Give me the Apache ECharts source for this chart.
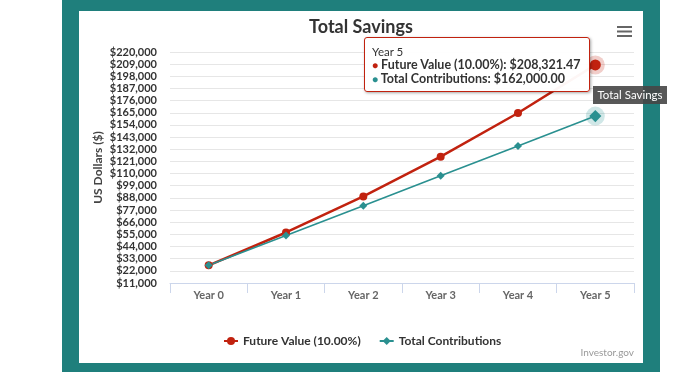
<!DOCTYPE html>
<html>
<head>
<meta charset="utf-8">
<script src="https://cdn.jsdelivr.net/npm/echarts@6/dist/echarts.min.js"></script>
<style>
html,body{margin:0;padding:0;background:#fff;}
#wrap{position:relative;width:700px;height:372px;overflow:hidden;}
#frame{position:absolute;left:62px;top:0;width:598px;height:372px;background:#1f7f7c;}
#panel{position:absolute;left:79px;top:11px;width:564px;height:352px;background:#fff;}
#chart{position:absolute;left:0;top:0;width:700px;height:372px;}
</style>
</head>
<body>
<div id="wrap"><div id="frame"></div><div id="panel"></div><div id="chart"></div></div>
<script>
const categories = ['Year 0','Year 1','Year 2','Year 3','Year 4','Year 5'];
const futureValue = [27000, 56700, 89370, 125307, 164837.7, 208321.47];
const contributions = [27000, 54000, 81000, 108000, 135000, 162000];
const seriesNames = ['Future Value (10.00%)', 'Total Contributions'];
const yMin = 11000, yMax = 220000, yStep = 11000;

const FONT = 'Lato';
const RED = '#c1220f';
const TEAL = '#2a9090';

function money(v, dec){
  return '$' + v.toLocaleString('en-US',{minimumFractionDigits:dec, maximumFractionDigits:dec});
}

const chart = echarts.init(document.getElementById('chart'), null, {renderer:'canvas'});
const hoverIdx = 5;

function styledData(arr, size){
  return arr.map((v,i)=> i===hoverIdx ? {value:v, symbolSize:size} : v);
}
function halo(arr, color){
  return {
    z:1, silent:true, label:{show:false},
    data:[{coord:[categories[hoverIdx], arr[hoverIdx]], symbol:'circle', symbolSize:19, itemStyle:{color:color}}]
  };
}

chart.setOption({
  animation:false,
  backgroundColor:'transparent',
  textStyle:{fontFamily:FONT},
  grid:{left:170, right:66, top:52, bottom:89, containLabel:false},
  tooltip:{
    trigger:'axis',
    triggerOn:'none',
    alwaysShowContent:true,
    transitionDuration:0,
    axisPointer:{type:'none'},
    position:[364,37],
    backgroundColor:'rgba(255,255,255,0.96)',
    borderColor:RED,
    borderWidth:1,
    padding:[7,8,5,7],
    extraCssText:'border-radius:3px;box-shadow:1px 1px 3px rgba(0,0,0,0.35);',
    textStyle:{fontFamily:FONT, fontSize:12, color:'#333'},
    formatter:function(params){
      let s = '<div style="font-size:11.5px;line-height:13px;">'+params[0].axisValue+'</div>';
      const colors=[RED,TEAL];
      params.filter(p=>p.seriesIndex<2).forEach(p=>{
        s += '<div style="font-weight:bold;font-size:12.5px;line-height:13px;"><span style="color:'+colors[p.seriesIndex]+';font-size:10px;">\u25CF</span> '+p.seriesName+': '+money(p.value,2)+'</div>';
      });
      return s;
    }
  },
  legend:{
    left:218, top:330,
    itemWidth:14, itemHeight:10, itemGap:18,
    textStyle:{fontFamily:FONT, fontSize:12, fontWeight:'bold', color:'#333'},
    data:seriesNames
  },
  xAxis:{
    type:'category',
    data:categories,
    boundaryGap:true,
    axisLine:{lineStyle:{color:'#ccd6eb', width:1}},
    axisTick:{show:true, length:10, interval:0, lineStyle:{color:'#ccd6eb'}},
    axisLabel:{margin:7, color:'#666', fontWeight:'bold', fontSize:11, fontFamily:FONT}
  },
  yAxis:{
    type:'value',
    min:yMin, max:yMax, interval:yStep,
    name:'US Dollars ($)',
    nameLocation:'middle',
    nameGap:66,
    nameMoveOverlap:false,
    nameTextStyle:{fontFamily:FONT, fontSize:12, fontWeight:'bold', color:'#444'},
    axisLine:{show:false},
    axisTick:{show:false},
    splitLine:{lineStyle:{color:'#e6e6e6', width:1}},
    axisLabel:{margin:13, color:'#333', fontWeight:'bold', fontSize:11, fontFamily:FONT,
      formatter:v=>money(v,0)}
  },
  series:[
    {
      name:seriesNames[0], type:'line',
      data:styledData(futureValue, 10),
      symbol:'circle', symbolSize:8,
      lineStyle:{color:RED, width:2.5},
      itemStyle:{color:RED},
      emphasis:{disabled:true},
      markPoint:halo(futureValue, 'rgba(193,34,15,0.22)')
    },
    {
      name:seriesNames[1], type:'line',
      data:styledData(contributions, 11),
      symbol:'diamond', symbolSize:8,
      lineStyle:{color:TEAL, width:1.6},
      itemStyle:{color:TEAL},
      emphasis:{disabled:true},
      markPoint:halo(contributions, 'rgba(42,144,144,0.22)')
    }
  ],
  graphic:[
    {type:'text', x:361, y:27, style:{text:'Total Savings', align:'center', verticalAlign:'middle', fill:'#333', font:'bold 18px '+FONT}},
    {type:'rect', shape:{x:617, y:26, width:15, height:2}, style:{fill:'#666'}},
    {type:'rect', shape:{x:617, y:30.5, width:15, height:2}, style:{fill:'#666'}},
    {type:'rect', shape:{x:617, y:35, width:15, height:2}, style:{fill:'#666'}},
    {type:'rect', shape:{x:593, y:86, width:74, height:18}, style:{fill:'rgba(70,70,70,0.9)'}, z:100},
    {type:'text', x:630, y:95, style:{text:'Total Savings', align:'center', verticalAlign:'middle', fill:'#fff', font:'11.5px '+FONT}, z:101},
    {type:'text', x:634, y:353, style:{text:'Investor.gov', align:'right', verticalAlign:'middle', fill:'#999', font:'10px '+FONT}}
  ]
});
chart.dispatchAction({type:'showTip', seriesIndex:0, dataIndex:hoverIdx});
</script>
</body>
</html>
